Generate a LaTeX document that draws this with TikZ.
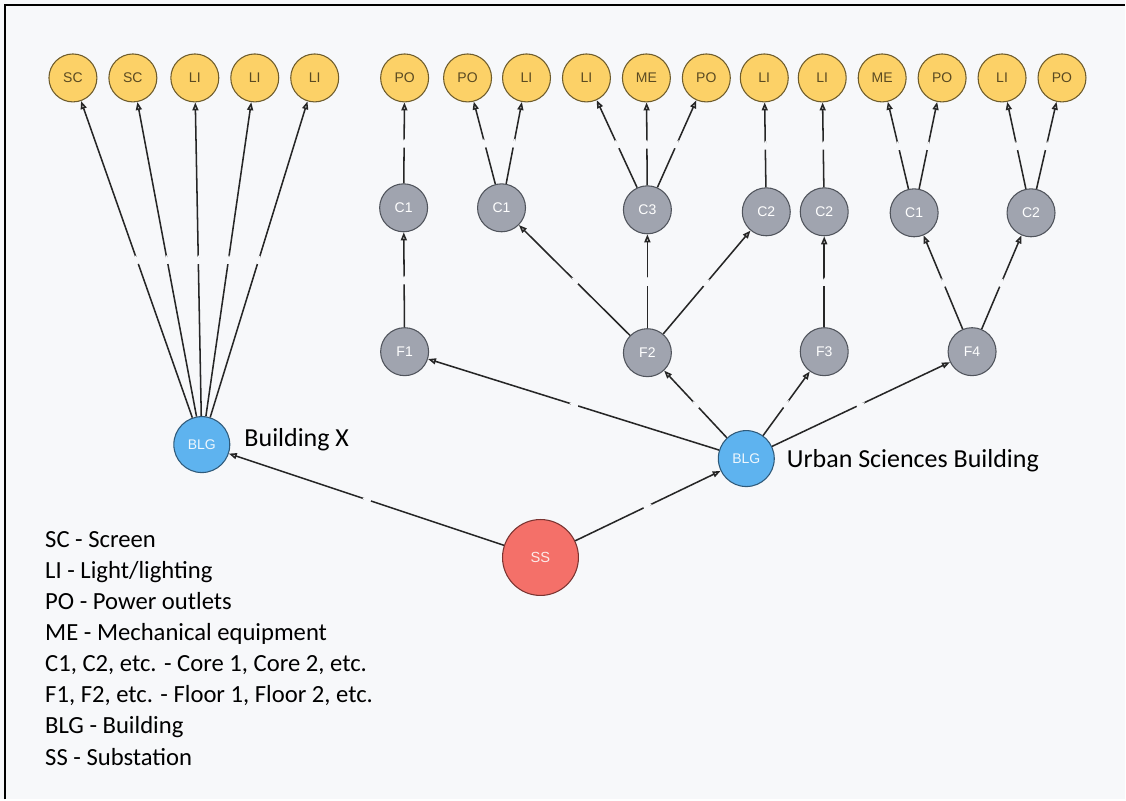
\documentclass[tikz,border=0pt]{standalone}
\usepackage{fontspec}
\setmainfont{Carlito}
\newfontfamily\nodefont{Liberation Sans}
\usetikzlibrary{arrows.meta,decorations.markings}
\definecolor{bgcol}{HTML}{F7F8FA}
\definecolor{leafcol}{HTML}{FCD167}
\definecolor{leafline}{HTML}{6E5C2C}
\definecolor{leaftext}{HTML}{5A4A22}
\definecolor{corecol}{HTML}{A0A4AF}
\definecolor{coreline}{HTML}{50545C}
\definecolor{blgcol}{HTML}{5EB3EF}
\definecolor{blgline}{HTML}{2F5A7A}
\definecolor{sscol}{HTML}{F47069}
\definecolor{ssline}{HTML}{7A3431}
\tikzset{
	>={Triangle[length=6pt,width=4.5pt,fill=gray!35]},
}

\begin{document}
\begin{tikzpicture}[x=0.75pt,y=-0.75pt,
		leaf/.style={circle, draw=leafline, fill=leafcol, line width=0.8pt, minimum size=36pt, inner sep=0pt, font=\nodefont\fontsize{10.5}{11}\selectfont, text=leaftext},
		core/.style={circle, draw=coreline, fill=corecol, line width=0.8pt, minimum size=36pt, inner sep=0pt, font=\nodefont\fontsize{10.5}{11}\selectfont, text=white},
		blg/.style={circle, draw=blgline, fill=blgcol, line width=0.8pt, minimum size=42pt, inner sep=0pt, font=\nodefont\fontsize{10.5}{11}\selectfont, text=white!90!blgcol},
		sub/.style={circle, draw=ssline, fill=sscol, line width=0.8pt, minimum size=57pt, inner sep=0pt, font=\nodefont\fontsize{11}{12}\selectfont, text=white!85!sscol},
		wire/.style={->, line width=1.15pt, draw=black!85,
			postaction={decorate, decoration={markings,
				mark=at position 0.5 with {\draw[bgcol, line width=3pt] (-3.5pt,0) -- (3.5pt,0);}}}},
		caption/.style={font=\fontsize{19.5}{22}\selectfont, anchor=west},
	]
	% background and frame
	\fill[bgcol] (0,0) rectangle (1126,800);
	\draw[line width=1.6pt] (5,800) -- (5,5) -- (1126,5);

	% substation and buildings
	\node[sub] (ss) at (541,558) {SS};
	\node[blg] (bx) at (202,445) {BLG};
	\node[blg] (usb) at (747,459) {BLG};
	\node[caption] (bxname) at (240,440) {Building X};
	\node[caption] (usbname) at (783,461) {Urban Sciences Building};

	% building x leaves
	\node[leaf] (sca) at (73,78) {SC};
	\node[leaf] (scb) at (133,78) {SC};
	\node[leaf] (lia) at (195,78) {LI};
	\node[leaf] (lib) at (255,78) {LI};
	\node[leaf] (lic) at (315,78) {LI};

	% floors
	\node[core] (fa) at (405,352) {F1};
	\node[core] (fb) at (648,353) {F2};
	\node[core] (fc) at (825,352) {F3};
	\node[core] (fd) at (973,352) {F4};

	% cores
	\node[core] (ca) at (404,208) {C1};
	\node[core] (cb) at (502,208) {C1};
	\node[core] (cc) at (648,210) {C3};
	\node[core] (cd) at (767,212) {C2};
	\node[core] (ce) at (825,212) {C2};
	\node[core] (cf) at (915,213) {C1};
	\node[core] (cg) at (1032,213) {C2};

	% usb leaves
	\node[leaf] (poa) at (405,78) {PO};
	\node[leaf] (pob) at (468,78) {PO};
	\node[leaf] (lid) at (527,78) {LI};
	\node[leaf] (lie) at (587,78) {LI};
	\node[leaf] (mea) at (647,78) {ME};
	\node[leaf] (poc) at (707,78) {PO};
	\node[leaf] (lif) at (765,78) {LI};
	\node[leaf] (lig) at (823,78) {LI};
	\node[leaf] (meb) at (883,78) {ME};
	\node[leaf] (pod) at (943,78) {PO};
	\node[leaf] (lih) at (1003,78) {LI};
	\node[leaf] (poe) at (1063,78) {PO};

	% connections
	\foreach \a/\b in {ss/bx, ss/usb,
			bx/sca, bx/scb, bx/lia, bx/lib, bx/lic,
			usb/fa, usb/fb, usb/fc, usb/fd,
			fa/ca, fb/cb, fb/cc, fb/cd, fc/ce, fd/cf, fd/cg,
			ca/poa, cb/pob, cb/lid, cc/lie, cc/mea, cc/poc,
			cd/lif, ce/lig, cf/meb, cf/pod, cg/lih, cg/poe}
		\draw[wire] (\a) -- (\b);

	% legend
	\node[anchor=north west, align=left, inner sep=0pt,
		font=\fontsize{18.5}{23.3}\selectfont] (legend) at (45,532) {%
		SC - Screen\\
		LI - Light/lighting\\
		PO - Power outlets\\
		ME - Mechanical equipment\\
		C1, C2, etc. - Core 1, Core 2, etc.\\
		F1, F2, etc. - Floor 1, Floor 2, etc.\\
		BLG - Building\\
		SS - Substation};
\end{tikzpicture}
\end{document}
